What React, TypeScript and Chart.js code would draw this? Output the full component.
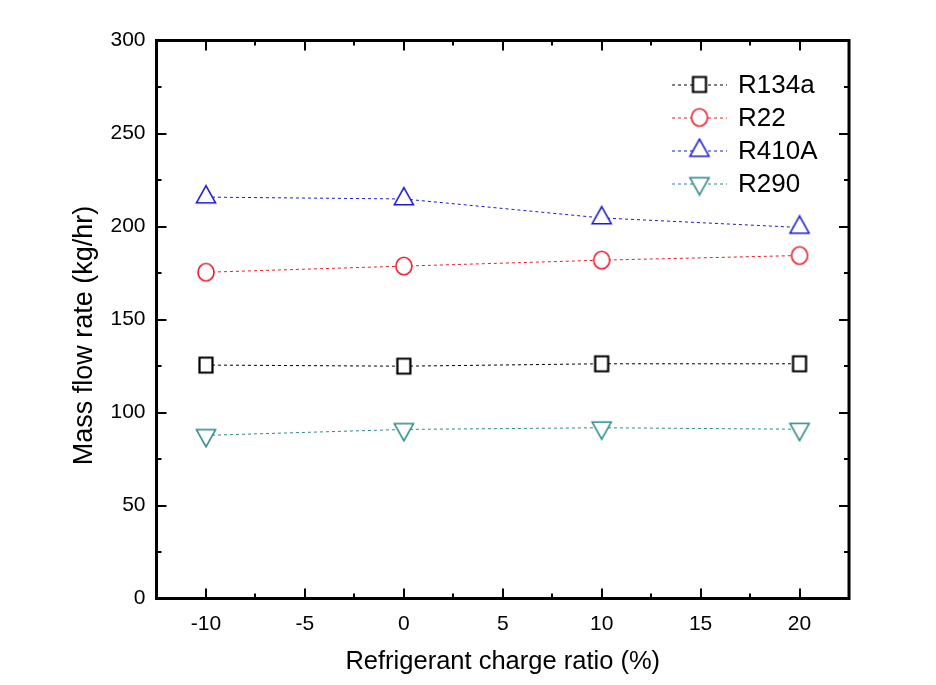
import React, { useEffect, useRef } from 'react';
import { Chart, registerables } from 'chart.js';

Chart.register(...registerables);

// ---- data ----
const chargeRatio = [-10, 0, 10, 20];
const r134a = [125.5, 124.9, 126.2, 126.2];
const r22 = [175.4, 178.7, 181.9, 184.4];
const r410a = [215.8, 214.8, 204.6, 199.5];
const r290 = [87.7, 90.9, 91.8, 91.0];
const seriesNames = ['R134a', 'R22', 'R410A', 'R290'];
const seriesColors = ['#000000', '#e3202b', '#1a1ad0', '#2a8a84'];
const seriesMarkers = ['square', 'circle', 'triangle', 'triangleDown'];

const xTickValues = [-10, -5, 0, 5, 10, 15, 20];
const xMinorValues = [-7.5, -2.5, 2.5, 7.5, 12.5, 17.5];
const yTickValues = [0, 50, 100, 150, 200, 250, 300];
const yMinorValues = [25, 75, 125, 175, 225, 275];
const xTitle = 'Refrigerant charge ratio (%)';
const yTitle = 'Mass flow rate (kg/hr)';

const FONT = "'Liberation Sans', Arial, sans-serif";

function makeMarker(kind: string, color: string): HTMLCanvasElement {
  const c = document.createElement('canvas');
  c.width = 24;
  c.height = 26;
  const ctx = c.getContext('2d')!;
  const cx = 12;
  const cy = 13;
  ctx.strokeStyle = color;
  ctx.fillStyle = '#ffffff';
  ctx.lineWidth = 1.6;
  ctx.beginPath();
  if (kind === 'square') {
    ctx.lineWidth = 2.2;
    ctx.rect(cx - 6.5, cy - 7.5, 13, 15);
  } else if (kind === 'circle') {
    ctx.ellipse(cx, cy, 8, 8.7, 0, 0, Math.PI * 2);
  } else if (kind === 'triangle') {
    ctx.moveTo(cx, cy - 11.3);
    ctx.lineTo(cx + 9.5, cy + 5.7);
    ctx.lineTo(cx - 9.5, cy + 5.7);
    ctx.closePath();
  } else {
    ctx.moveTo(cx - 9.5, cy - 5.7);
    ctx.lineTo(cx + 9.5, cy - 5.7);
    ctx.lineTo(cx, cy + 11.3);
    ctx.closePath();
  }
  ctx.fill();
  ctx.stroke();
  return c;
}

const framePlugin = {
  id: 'frameAndLegend',
  afterDatasetsDraw(chart: any) {
    const { ctx, chartArea: a } = chart;
    const xs = chart.scales.x;
    const ys = chart.scales.y;
    ctx.save();
    ctx.strokeStyle = '#000';
    ctx.lineWidth = 2;
    ctx.beginPath();
    const major = 10;
    const minor = 5;
    xTickValues.forEach((v) => {
      const p = Math.round(xs.getPixelForValue(v));
      ctx.moveTo(p, a.bottom);
      ctx.lineTo(p, a.bottom - major);
      ctx.moveTo(p, a.top);
      ctx.lineTo(p, a.top + major);
    });
    xMinorValues.forEach((v) => {
      const p = Math.round(xs.getPixelForValue(v));
      ctx.moveTo(p, a.bottom);
      ctx.lineTo(p, a.bottom - minor);
      ctx.moveTo(p, a.top);
      ctx.lineTo(p, a.top + minor);
    });
    yTickValues.forEach((v) => {
      const p = Math.round(ys.getPixelForValue(v));
      ctx.moveTo(a.left, p);
      ctx.lineTo(a.left + major, p);
      ctx.moveTo(a.right, p);
      ctx.lineTo(a.right - major, p);
    });
    yMinorValues.forEach((v) => {
      const p = Math.round(ys.getPixelForValue(v));
      ctx.moveTo(a.left, p);
      ctx.lineTo(a.left + minor, p);
      ctx.moveTo(a.right, p);
      ctx.lineTo(a.right - minor, p);
    });
    ctx.stroke();
    ctx.lineWidth = 3;
    ctx.strokeRect(a.left, a.top, a.right - a.left, a.bottom - a.top);
    ctx.restore();
  },
  afterDraw(chart: any) {
    const { ctx, chartArea: a } = chart;
    ctx.save();
    // y axis title
    ctx.fillStyle = '#000';
    ctx.font = `27px ${FONT}`;
    ctx.textAlign = 'center';
    ctx.textBaseline = 'middle';
    ctx.translate(85, (a.top + a.bottom) / 2 + 16);
    ctx.rotate(-Math.PI / 2);
    ctx.fillText(yTitle, 0, 0);
    ctx.restore();

    // legend
    ctx.save();
    chart.data.datasets.forEach((ds: any, i: number) => {
      const yy = a.top + 44 + i * 33;
      const x0 = a.right - 177;
      const x1 = a.right - 122;
      const xm = (x0 + x1) / 2;
      ctx.strokeStyle = ds.borderColor;
      ctx.lineWidth = 1;
      ctx.setLineDash([3, 3]);
      ctx.beginPath();
      ctx.moveTo(x0, yy + 0.5);
      ctx.lineTo(x1, yy + 0.5);
      ctx.stroke();
      ctx.setLineDash([]);
      const m = ds.pointStyle as HTMLCanvasElement;
      ctx.drawImage(m, xm - m.width / 2, yy - m.height / 2);
      ctx.fillStyle = '#000';
      ctx.font = `26px ${FONT}`;
      ctx.textAlign = 'left';
      ctx.textBaseline = 'middle';
      ctx.fillText(seriesNames[i], a.right - 111, yy + 1);
    });
    ctx.restore();
  },
};

export default function App() {
  const ref = useRef<HTMLCanvasElement>(null);
  useEffect(() => {
    document.body.style.margin = '0';
    const series = [r134a, r22, r410a, r290];
    const chart = new Chart(ref.current!, {
      type: 'line',
      data: {
        datasets: series.map((vals, i) => ({
          label: seriesNames[i],
          data: chargeRatio.map((x, j) => ({ x, y: vals[j] })),
          borderColor: seriesColors[i],
          backgroundColor: '#ffffff',
          borderWidth: 1,
          borderDash: [3, 3],
          pointStyle: makeMarker(seriesMarkers[i], seriesColors[i]) as any,
          pointRadius: 9,
          tension: 0,
          fill: false,
        })),
      },
      options: {
        responsive: false,
        animation: false,
        devicePixelRatio: 1,
        layout: { padding: { left: 0, top: 40.5, right: 87, bottom: 0 } },
        plugins: { legend: { display: false }, tooltip: { enabled: false } },
        scales: {
          x: {
            type: 'linear',
            min: -12.5,
            max: 22.5,
            afterFit: (s: any) => {
              s.height = 86.5;
            },
            afterBuildTicks: (s: any) => {
              s.ticks = xTickValues.map((v) => ({ value: v }));
            },
            grid: { display: false, drawTicks: false },
            border: { display: false },
            ticks: {
              color: '#000',
              padding: 13,
              font: { family: FONT, size: 21 },
              maxRotation: 0,
              callback: (v: any) => String(v),
            },
            title: {
              display: true,
              text: xTitle,
              color: '#000',
              font: { family: FONT, size: 25.5 },
              padding: { top: 0, bottom: 8 },
            },
          },
          y: {
            type: 'linear',
            min: 0,
            max: 300,
            afterFit: (s: any) => {
              s.width = 156.5;
            },
            afterBuildTicks: (s: any) => {
              s.ticks = yTickValues.map((v) => ({ value: v }));
            },
            grid: { display: false, drawTicks: false },
            border: { display: false },
            ticks: {
              color: '#000',
              padding: 11,
              font: { family: FONT, size: 21 },
              callback: (v: any) => String(v),
            },
          },
        },
      },
      plugins: [framePlugin],
    });
    return () => chart.destroy();
  }, []);
  return (
    <div style={{ width: 936, height: 685, background: '#fff' }}>
      <canvas ref={ref} width={936} height={685} />
    </div>
  );
}
